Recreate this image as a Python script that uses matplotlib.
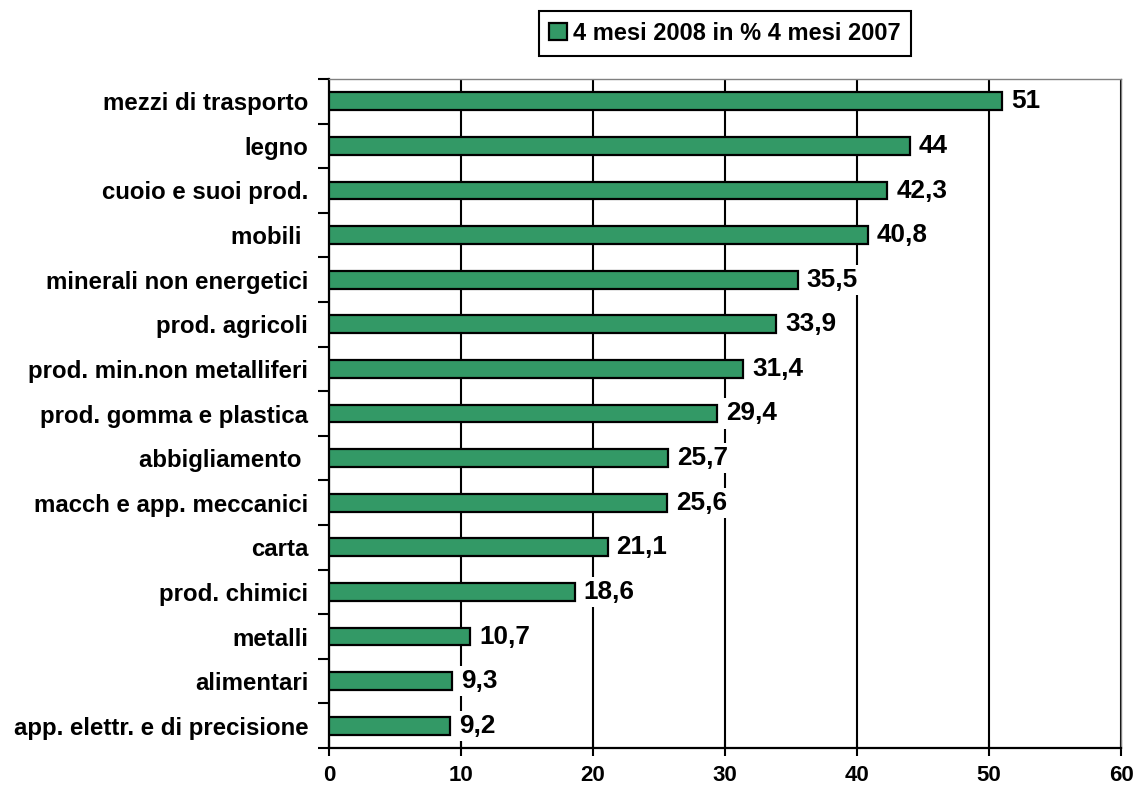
import matplotlib
matplotlib.use("Agg")
import matplotlib.pyplot as plt
import numpy as np

categories = [
    "mezzi di trasporto",
    "legno",
    "cuoio e suoi prod.",
    "mobili ",
    "minerali non energetici",
    "prod. agricoli",
    "prod. min.non metalliferi",
    "prod. gomma e plastica",
    "abbigliamento ",
    "macch e app. meccanici",
    "carta",
    "prod. chimici",
    "metalli",
    "alimentari",
    "app. elettr. e di precisione",
]
values = [51, 44, 42.3, 40.8, 35.5, 33.9, 31.4, 29.4, 25.7, 25.6, 21.1, 18.6, 10.7, 9.3, 9.2]
value_labels = ["51", "44", "42,3", "40,8", "35,5", "33,9", "31,4", "29,4",
                "25,7", "25,6", "21,1", "18,6", "10,7", "9,3", "9,2"]
series_name = "4 mesi 2008 in % 4 mesi 2007"
xticks = [0, 10, 20, 30, 40, 50, 60]

plt.rcParams['font.family'] = ['Liberation Sans', 'DejaVu Sans']
plt.rcParams['font.weight'] = 'bold'

fig = plt.figure(figsize=(11.36, 7.91), dpi=100)
ax = fig.add_axes([329/1136, 1-748/791, (1121-329)/1136, (748-79)/791])

n = len(categories)
ypos = np.arange(n)[::-1]
green = "#339966"
bars = ax.barh(ypos, values, height=0.40, color=green, edgecolor="black",
               linewidth=1.6, zorder=3, label=series_name)

for y, v, lab in zip(ypos, values, value_labels):
    ax.annotate(lab, xy=(v, y), xytext=(6.5, 0), textcoords="offset points",
                ha="left", va="center", fontsize=18.8, fontweight="bold",
                bbox=dict(boxstyle="square,pad=0.12", fc="white", ec="none"),
                zorder=4)

ax.set_xlim(0, 60)
ax.set_ylim(-0.5, n - 0.5)
ax.set_xticks(xticks)
ax.set_xticklabels([str(t) for t in xticks], fontsize=16, fontweight="bold")
ax.tick_params(axis="x", direction="inout", length=12, width=1.5, pad=6.5)

ax.set_yticks(np.arange(-0.5, n, 1.0))
ax.set_yticklabels([])
ax.tick_params(axis="y", which="major", direction="out", length=8, width=1.5)
ax.set_yticks(ypos, minor=True)
ax.set_yticklabels(categories, minor=True, fontsize=17.3, fontweight="bold")
ax.tick_params(axis="y", which="minor", length=0, pad=15)

ax.xaxis.grid(True, color="black", linewidth=1.5, zorder=0)
ax.set_axisbelow(True)

for s in ["left", "bottom"]:
    ax.spines[s].set_color("black")
    ax.spines[s].set_linewidth(1.6)
for s in ["top", "right"]:
    ax.spines[s].set_color("#808080")
    ax.spines[s].set_linewidth(1.0)

leg = fig.legend(handles=[bars], labels=[series_name], loc="center",
                 bbox_to_anchor=(725/1136, 1-33.5/791),
                 prop=dict(weight="bold", size=17),
                 handlelength=0.76, handleheight=0.76, handletextpad=0.25,
                 borderpad=0.45, fancybox=False, framealpha=1, edgecolor="black")
leg.get_frame().set_linewidth(1.5)

fig.savefig("out.png", dpi=100)
